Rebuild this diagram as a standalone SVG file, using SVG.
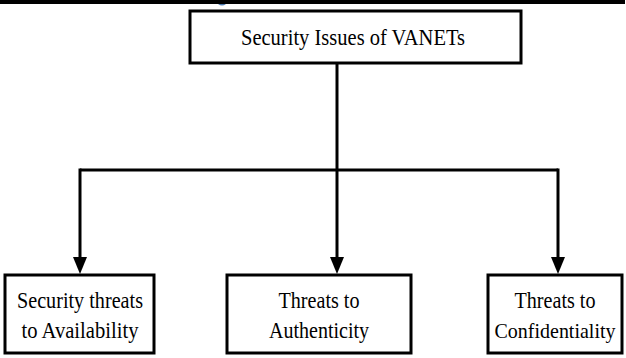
<svg xmlns="http://www.w3.org/2000/svg" width="626" height="358" viewBox="0 0 626 358">
<defs>
<style>
.box{fill:#fff;stroke:#000;stroke-width:3}
.lbl{font-family:'Liberation Serif','Times New Roman','DejaVu Serif',serif;font-size:23px;fill:#000;text-anchor:middle}
.wire{fill:none;stroke:#000;stroke-width:3}
</style>
<marker id="arr" markerWidth="17" markerHeight="14" refX="0" refY="7" orient="auto" markerUnits="userSpaceOnUse" viewBox="0 0 17 14">
<path d="M0,0 L17,7 L0,14 Z" fill="#000"/>
</marker>
</defs>
<rect x="0" y="0" width="626" height="358" fill="#fff"/>
<rect x="0" y="0" width="625" height="4" fill="#000"/>
<path d="M218,4 Q222,7 226,4 Z" fill="#4a78b0"/>
<g id="connectors">
<path class="wire" d="M337,63 V257" marker-end="url(#arr)"/>
<path class="wire" d="M80,170 H558"/>
<path class="wire" d="M80,168.5 V257" marker-end="url(#arr)"/>
<path class="wire" d="M558,168.5 V257" marker-end="url(#arr)"/>
</g>
<g id="root">
<rect class="box" x="190" y="11" width="331" height="52"/>
<text class="lbl" x="353" y="45" textLength="224" lengthAdjust="spacingAndGlyphs">Security Issues of VANETs</text>
</g>
<g id="availability">
<rect class="box" x="5" y="275" width="149" height="78"/>
<text class="lbl" x="80" y="308" textLength="126" lengthAdjust="spacingAndGlyphs">Security threats</text>
<text class="lbl" x="80" y="338" textLength="117" lengthAdjust="spacingAndGlyphs">to Availability</text>
</g>
<g id="authenticity">
<rect class="box" x="227" y="275" width="184" height="78"/>
<text class="lbl" x="319" y="308" textLength="81" lengthAdjust="spacingAndGlyphs">Threats to</text>
<text class="lbl" x="319" y="338" textLength="100" lengthAdjust="spacingAndGlyphs">Authenticity</text>
</g>
<g id="confidentiality">
<rect class="box" x="488" y="275" width="134" height="78"/>
<text class="lbl" x="555" y="308" textLength="81" lengthAdjust="spacingAndGlyphs">Threats to</text>
<text class="lbl" x="555" y="338" style="font-size:21px" textLength="121" lengthAdjust="spacingAndGlyphs">Confidentiality</text>
</g>
</svg>
